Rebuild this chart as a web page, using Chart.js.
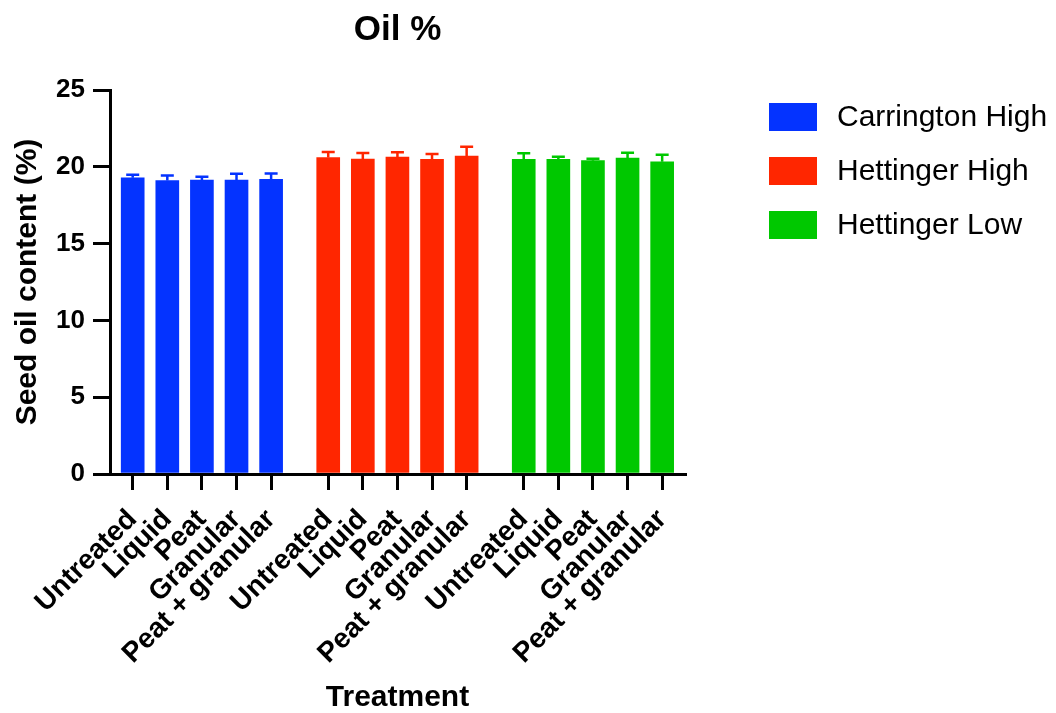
<!DOCTYPE html>
<html><head><meta charset="utf-8">
<script src="https://cdn.jsdelivr.net/npm/chart.js@4.4.1/dist/chart.umd.min.js"></script>
<style>html,body{margin:0;padding:0;background:#fff;}#wrap{width:1056px;height:713px;}</style>
</head><body><div id="wrap"><canvas id="c" width="1056" height="713"></canvas></div>
<script>
// ---- data ----
const treatments = ['Untreated', 'Liquid', 'Peat', 'Granular', 'Peat + granular'];
const seriesNames = ['Carrington High', 'Hettinger High', 'Hettinger Low'];
const carringtonHigh = [19.29, 19.10, 19.14, 19.14, 19.18];
const carringtonHighErr = [0.20, 0.33, 0.22, 0.41, 0.39];
const hettingerHigh = [20.60, 20.51, 20.64, 20.49, 20.70];
const hettingerHighErr = [0.36, 0.39, 0.30, 0.34, 0.61];
const hettingerLow = [20.49, 20.49, 20.40, 20.57, 20.33];
const hettingerLowErr = [0.39, 0.17, 0.13, 0.35, 0.46];
const yTickValues = [0, 5, 10, 15, 20, 25];

// ---- styling / layout ----
const colors = ['#0433FF', '#FF2600', '#00C800'];
const GROUP_STEP = 5.65; // category units between group starts (includes gap)
const FONT = '"Liberation Sans", Arial, Helvetica, sans-serif';
Chart.defaults.font.family = FONT;
Chart.defaults.color = '#000';

const seriesValues = [carringtonHigh, hettingerHigh, hettingerLow];
const seriesErrors = [carringtonHighErr, hettingerHighErr, hettingerLowErr];
const tickPositions = [];
const tickLabels = [];
seriesNames.forEach((n, g) => treatments.forEach((t, i) => { tickPositions.push(g * GROUP_STEP + i); tickLabels.push(t); }));

const datasets = seriesNames.map((name, g) => ({
  label: name,
  data: seriesValues[g].map((v, i) => ({ x: g * GROUP_STEP + i, y: v })),
  errors: seriesErrors[g],
  backgroundColor: colors[g],
  borderWidth: 0,
  barThickness: 23,
  grouped: false
}));

const errorBars = {
  id: 'errorBars',
  afterDatasetsDraw(chart) {
    const ctx = chart.ctx, ys = chart.scales.y;
    chart.data.datasets.forEach((ds, d) => {
      const meta = chart.getDatasetMeta(d);
      ctx.save();
      ctx.strokeStyle = ds.backgroundColor;
      ctx.lineWidth = 2.5;
      meta.data.forEach((el, i) => {
        const v = ds.data[i].y, e = ds.errors[i];
        const yt = ys.getPixelForValue(v + e);
        ctx.beginPath();
        ctx.moveTo(el.x, el.y);
        ctx.lineTo(el.x, yt);
        ctx.moveTo(el.x - 6.5, yt);
        ctx.lineTo(el.x + 6.5, yt);
        ctx.stroke();
      });
      ctx.restore();
    });
  }
};

const sideLegend = {
  id: 'sideLegend',
  afterDraw(chart) {
    const ctx = chart.ctx, ca = chart.chartArea;
    ctx.save();
    ctx.font = '30px ' + FONT;
    ctx.textBaseline = 'middle';
    ctx.textAlign = 'left';
    chart.data.datasets.forEach((ds, i) => {
      const x = ca.right + 84, y = ca.top + 13 + i * 54;
      ctx.fillStyle = ds.backgroundColor;
      ctx.fillRect(x, y, 48, 28);
      ctx.fillStyle = '#000';
      ctx.fillText(ds.label, x + 68, y + 15);
    });
    ctx.restore();
  }
};

new Chart(document.getElementById('c'), {
  type: 'bar',
  data: { datasets },
  plugins: [errorBars, sideLegend],
  options: {
    responsive: false,
    animation: false,
    layout: { padding: { left: 0, right: 371, top: 0, bottom: 0 } },
    plugins: {
      legend: { display: false },
      tooltip: { enabled: false },
      title: {
        display: true, text: 'Oil %', fullSize: false, color: '#000',
        font: { size: 35, weight: 'bold' }, padding: { top: 9, bottom: 39 }
      }
    },
    scales: {
      x: {
        type: 'linear',
        min: -0.656, max: 15.96, offset: false, bounds: 'data',
        afterBuildTicks: s => { s.ticks = tickPositions.map(v => ({ value: v })); },
        afterFit: s => { s.height = 239; },
        ticks: {
          autoSkip: false, maxRotation: 45, minRotation: 45, padding: 13,
          color: '#000', font: { size: 28, weight: 'bold' },
          callback: (v, i) => tickLabels[i]
        },
        grid: { display: true, offset: false, drawOnChartArea: false, drawTicks: true, tickLength: 16, tickWidth: 3, tickColor: '#000', color: '#000', lineWidth: 3 },
        border: { display: true, color: '#000', width: 3 },
        title: { display: true, text: 'Treatment', color: '#000', font: { size: 30, weight: 'bold', lineHeight: 1 }, padding: 0 }
      },
      y: {
        min: 0, max: 25,
        afterBuildTicks: s => { s.ticks = yTickValues.map(v => ({ value: v })); },
        afterFit: s => { s.width = 110; },
        ticks: { padding: 8, color: '#000', font: { size: 26, weight: 'bold' } },
        grid: { display: true, drawOnChartArea: false, drawTicks: true, tickLength: 17, tickWidth: 3, tickColor: '#000', color: '#000', lineWidth: 3 },
        border: { display: true, color: '#000', width: 3 },
        title: { display: true, text: 'Seed oil content (%)', color: '#000', font: { size: 30, weight: 'bold' }, padding: { top: 10, bottom: 0 } }
      }
    }
  }
});
</script></body></html>
